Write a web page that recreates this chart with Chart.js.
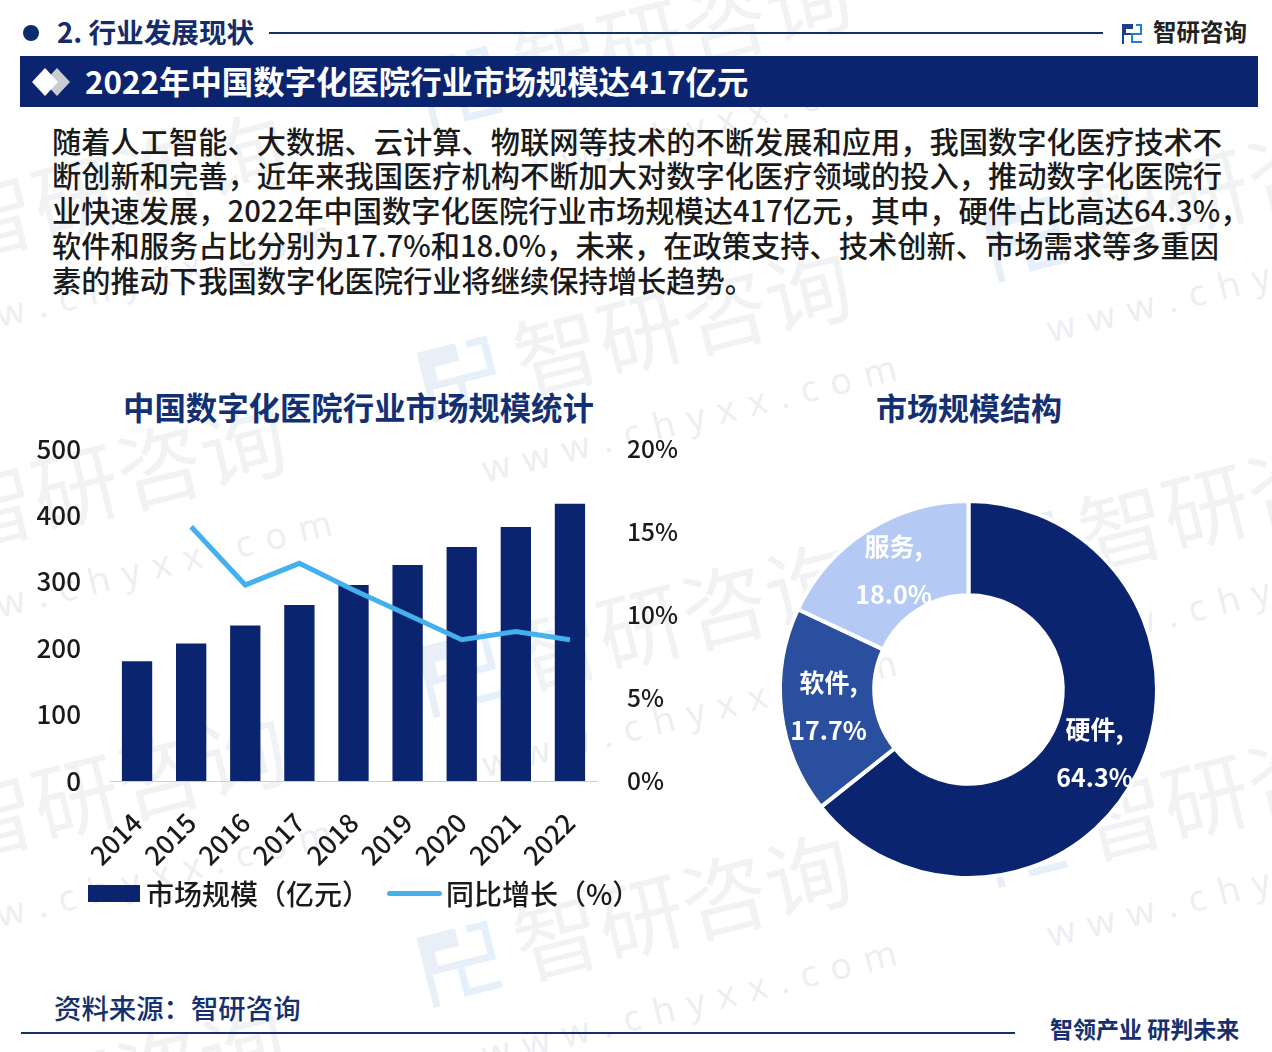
<!DOCTYPE html>
<html lang="zh">
<head>
<meta charset="utf-8">
<title>2022年中国数字化医院行业市场规模达417亿元</title>
<script src="https://cdn.jsdelivr.net/npm/chart.js@4/dist/chart.umd.min.js"></script>
<style>
  html, body { margin: 0; padding: 0; background: #fff; }
  body { width: 1272px; height: 1052px; position: relative; overflow: hidden;
         font-family: "Noto Sans CJK SC", "Noto Sans", sans-serif; }
  .abs { position: absolute; white-space: nowrap; line-height: 1; }
  .bar { position: absolute; }
  .wm { position: absolute; width: 460px; height: 190px; transform: rotate(-14deg); transform-origin: center; }
  .wm b { position: absolute; left: 88px; top: 0; font-size: 86px; font-weight: 400; line-height: 1; color: #f0f2f4; white-space: nowrap; }
  .wm i { position: absolute; left: 30px; top: 118px; font-size: 36px; font-style: normal; font-family: "Open Sans", sans-serif; letter-spacing: 13px; color: #eceef1; white-space: nowrap; }
  .wm svg { position: absolute; left: -6px; top: 6px; }
  .para { position: absolute; left: 52px; font-size: 29.25px; font-weight: 500; color: #1a1a1a; line-height: 1; white-space: nowrap; }
  #legend { position: absolute; left: 88px; top: 875px; height: 36px; display: flex; align-items: center; font-size: 28px; font-weight: 500; color: #1a1a1a; white-space: nowrap; }
  #legend span.key { display: inline-block; margin-right: 6px; }
  canvas { position: absolute; }
</style>
</head>
<body>
<div id="watermarks"></div>

<!-- header -->
<div class="bar" style="left:23px;top:25px;width:16px;height:16px;border-radius:50%;background:#0c2a70"></div>
<div class="abs" style="left:57px;top:18px;font-size:27.6px;font-weight:700;color:#142c6b">2. 行业发展现状</div>
<div class="bar" style="left:269px;top:32px;width:834px;height:2px;background:#16306e"></div>
<svg class="bar" style="left:1122px;top:22px" width="21" height="22" viewBox="0 0 21 22">
  <path d="M0 2h11v5H4v4h7v2H2v9H0V2z" fill="#1b3f8f"/>
  <path d="M14 2h6v11h-9v6h9v2H9V11h9V4h-4V2z" fill="#1f7fd0"/>
</svg>
<div class="abs" style="left:1153px;top:20px;font-size:23.5px;font-weight:700;color:#222">智研咨询</div>

<!-- banner -->
<div class="bar" style="left:20px;top:56px;width:1238px;height:51px;background:#0b2470"></div>
<svg class="bar" style="left:30px;top:66px" width="44" height="32" viewBox="0 0 44 32">
  <polygon points="27,2 40,16 27,30 14,16" fill="#c9ccd4"/>
  <polygon points="15,2 28,16 15,30 2,16" fill="#fff"/>
</svg>
<div class="abs" style="left:85px;top:65px;font-size:31.4px;font-weight:700;color:#fff">2022年中国数字化医院行业市场规模达417亿元</div>

<!-- paragraph -->
<div class="para" style="top:126px">随着人工智能、大数据、云计算、物联网等技术的不断发展和应用，我国数字化医疗技术不</div>
<div class="para" style="top:160px">断创新和完善，近年来我国医疗机构不断加大对数字化医疗领域的投入，推动数字化医院行</div>
<div class="para" style="top:195px">业快速发展，2022年中国数字化医院行业市场规模达417亿元，其中，硬件占比高达64.3%，</div>
<div class="para" style="top:230px">软件和服务占比分别为17.7%和18.0%，未来，在政策支持、技术创新、市场需求等多重因</div>
<div class="para" style="top:265px">素的推动下我国数字化医院行业将继续保持增长趋势。</div>

<!-- chart titles -->
<div class="abs" style="left:123px;top:391px;font-size:31.4px;font-weight:700;color:#133072">中国数字化医院行业市场规模统计</div>
<div class="abs" style="left:876px;top:391px;font-size:31px;font-weight:700;color:#133072">市场规模结构</div>

<canvas id="barChart" style="left:20px;top:404px;width:680px;height:476px" width="680" height="476"></canvas>
<div id="legend"></div>
<canvas id="pieChart" style="left:760px;top:481px;width:417px;height:417px" width="417" height="417"></canvas>

<!-- footer -->
<div class="abs" style="left:54px;top:994px;font-size:27.4px;font-weight:500;color:#14306f">资料来源：智研咨询</div>
<div class="bar" style="left:21px;top:1032px;width:994px;height:2px;background:#16306e"></div>
<div class="abs" style="left:1050px;top:1017px;font-size:23px;font-weight:700;color:#14306f">智领产业 研判未来</div>

<script>
// Bar + line chart values
const years = ['2014', '2015', '2016', '2017', '2018', '2019', '2020', '2021', '2022'];
const marketSize = [180, 207, 234, 265, 295, 325, 352, 382, 417];
const yoyGrowth = [null, 15.3, 11.8, 13.1, 11.5, 10.0, 8.5, 9.0, 8.5];
const sizeTicks = [0, 100, 200, 300, 400, 500];
const growthTicks = [0, 5, 10, 15, 20];

// Doughnut values
const segments = ['硬件', '软件', '服务'];
const shares = [64.3, 17.7, 18.0];

const seriesNames = ['市场规模（亿元）', '同比增长（%）'];
const NAVY = '#0a2470';
const SKY = '#45b0ee';
const SEGMENT_COLORS = [NAVY, '#2a4f9e', '#b4c9f3'];
const TEXT_COLOR = '#1a1a1a';

Chart.defaults.font.family = '"Noto Sans CJK SC", "Noto Sans", sans-serif';
Chart.defaults.animation = false;
Chart.defaults.responsive = false;

// Watermark tiles, just background decoration
const tiles = [[435, -10], [435, 280], [435, 575], [435, 865],
               [-130, 145], [-130, 435], [-130, 745], [-130, 1040],
               [1000, 140], [1000, 455], [1000, 745]];
const wmBox = document.getElementById('watermarks');
tiles.forEach(t => {
    const el = document.createElement('div');
    el.className = 'wm';
    el.style.left = t[0] + 'px';
    el.style.top = t[1] + 'px';
    el.innerHTML = '<svg width="76" height="80" viewBox="0 0 21 22"><path d="M0 2h11v5H4v4h7v2H2v9H0V2z" fill="#e9eff7"/><path d="M14 2h6v11h-9v6h9v2H9V11h9V4h-4V2z" fill="#e6f0fa"/></svg>'
        + '<b>智研咨询</b><i>www.chyxx.com</i>';
    wmBox.appendChild(el);
});

// Legend drawn next to the canvas
const legendEl = document.getElementById('legend');
legendEl.innerHTML =
    '<span class="key" style="width:52px;height:17px;background:' + NAVY + '"></span>' +
    '<span style="margin-right:17px">' + seriesNames[0] + '</span>' +
    '<span class="key" style="width:55px;height:5px;border-radius:3px;background:' + SKY + ';margin-right:4px"></span>' +
    '<span>' + seriesNames[1] + '</span>';

new Chart(document.getElementById('barChart'), {
    data: {
        labels: years,
        datasets: [
            {
                type: 'line',
                label: seriesNames[1],
                data: yoyGrowth,
                yAxisID: 'yRight',
                borderColor: SKY,
                borderWidth: 5,
                pointRadius: 0,
                tension: 0,
                order: 1
            },
            {
                type: 'bar',
                label: seriesNames[0],
                data: marketSize,
                yAxisID: 'yLeft',
                backgroundColor: NAVY,
                categoryPercentage: 1,
                barPercentage: 0.56,
                order: 2
            }
        ]
    },
    options: {
        layout: { padding: { top: 20 } },
        plugins: { legend: { display: false }, tooltip: { enabled: false } },
        scales: {
            x: {
                grid: { display: false, drawTicks: false },
                border: { color: '#c9ced8', width: 1 },
                ticks: { color: TEXT_COLOR, font: { size: 26, weight: 500 }, minRotation: 45, maxRotation: 45, padding: 26 },
                afterFit: scale => { scale.height = 99; }
            },
            yLeft: {
                position: 'left',
                min: 0,
                max: 500,
                grid: { display: false, drawTicks: false },
                border: { display: false },
                afterBuildTicks: scale => { scale.ticks = sizeTicks.map(v => ({ value: v })); },
                ticks: { color: TEXT_COLOR, font: { size: 26, weight: 500 }, padding: 29 },
                afterFit: scale => { scale.width = 90; }
            },
            yRight: {
                position: 'right',
                min: 0,
                max: 20,
                grid: { display: false, drawTicks: false },
                border: { display: false },
                afterBuildTicks: scale => { scale.ticks = growthTicks.map(v => ({ value: v })); },
                ticks: { color: TEXT_COLOR, font: { size: 24.5, weight: 500 }, padding: 30, callback: v => v + '%' },
                afterFit: scale => { scale.width = 103; }
            }
        }
    }
});

// Slice labels sit off-centre in the reference, so they get their own offsets from the hole centre
const labelOffsets = [[126, 64], [-140, 17], [-75, -119]];
const sliceLabels = {
    id: 'sliceLabels',
    afterDatasetsDraw(chart) {
        const ctx = chart.ctx;
        const arc = chart.getDatasetMeta(0).data[0];
        ctx.save();
        ctx.fillStyle = '#fff';
        ctx.font = '700 25px "Noto Sans CJK SC", "Noto Sans", sans-serif';
        ctx.textAlign = 'center';
        ctx.textBaseline = 'middle';
        segments.forEach((name, i) => {
            const x = arc.x + labelOffsets[i][0];
            const y = arc.y + labelOffsets[i][1];
            ctx.fillText(name + ',', x, y - 24);
            ctx.fillText(shares[i].toFixed(1) + '%', x, y + 24);
        });
        ctx.restore();
    }
};

new Chart(document.getElementById('pieChart'), {
    type: 'doughnut',
    data: {
        labels: segments,
        datasets: [{
            data: shares,
            backgroundColor: SEGMENT_COLORS,
            borderColor: '#fff',
            borderWidth: 4,
            borderAlign: 'center'
        }]
    },
    options: {
        cutout: '50%',
        layout: { padding: 18 },
        plugins: { legend: { display: false }, tooltip: { enabled: false } }
    },
    plugins: [sliceLabels]
});
</script>
</body>
</html>
